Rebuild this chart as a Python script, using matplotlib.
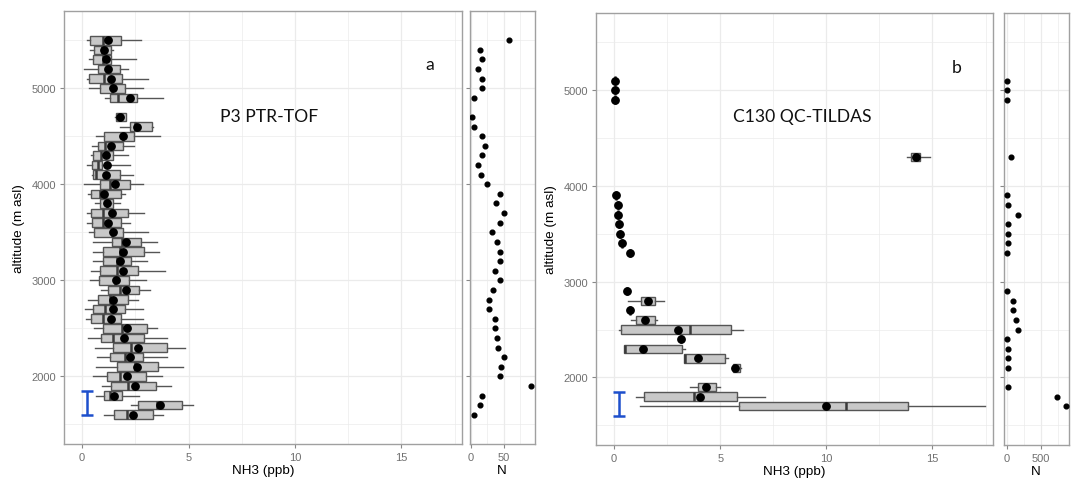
import matplotlib
matplotlib.use("Agg")
import matplotlib.pyplot as plt
from matplotlib.ticker import MultipleLocator

# ---- P3 PTR-TOF: NH3 statistics per 100 m altitude bin ----
p3_alt = [5500, 5400, 5300, 5200, 5100, 5000, 4900, 4700, 4600, 4500,
          4400, 4300, 4200, 4100, 4000, 3900, 3800, 3700, 3600, 3500,
          3400, 3300, 3200, 3100, 3000, 2900, 2800, 2700, 2600, 2500,
          2400, 2300, 2200, 2100, 2000, 1900, 1800, 1700, 1600]
p3_lo = [0.22, 0.38, 0.33, 0.11, 0.22, 0.34, 1.08, 1.55, 1.76, 0.66,
         0.47, 0.42, 0.22, 0.45, 0.09, 0.30, 0.61, 0.25, 0.22, 0.34,
         0.53, 0.53, 0.53, 0.42, 0.38, 0.88, 0.30, 0.14, 0.19, 0.56,
         0.27, 0.61, 0.69, 0.66, 0.49, 0.92, 0.64, 2.30, 1.05]
p3_q1 = [0.38, 0.58, 0.53, 0.77, 0.34, 0.86, 1.29, 1.60, 2.23, 1.05,
         0.74, 0.53, 0.45, 0.53, 0.82, 0.41, 0.82, 0.42, 0.45, 0.56,
         1.39, 1.00, 0.97, 0.85, 0.80, 1.24, 0.74, 0.53, 0.42, 0.97,
         0.88, 1.44, 1.29, 1.63, 1.19, 1.36, 1.05, 2.65, 1.52]
p3_med = [0.97, 0.92, 0.97, 1.16, 1.05, 1.39, 1.68, 1.79, 2.49, 1.90,
          1.08, 0.88, 0.77, 0.66, 1.32, 0.85, 1.16, 1.00, 1.00, 1.39,
          1.87, 1.79, 1.63, 1.66, 1.55, 1.79, 1.32, 1.08, 1.00, 1.87,
          1.47, 2.29, 2.02, 2.49, 1.76, 2.15, 1.32, 3.50, 2.13]
p3_q3 = [1.83, 1.35, 1.35, 1.76, 1.88, 2.02, 2.57, 2.05, 3.29, 2.45,
         1.93, 1.47, 0.92, 1.76, 2.23, 1.82, 1.47, 2.15, 1.83, 1.94,
         2.77, 2.92, 2.30, 2.63, 2.21, 2.68, 2.18, 2.02, 1.82, 3.07,
         2.92, 3.98, 2.88, 3.59, 3.01, 3.48, 1.87, 4.69, 3.32]
p3_hi = [2.76, 1.47, 2.54, 2.18, 3.09, 2.85, 3.79, 2.07, 3.35, 3.64,
         2.45, 2.15, 2.26, 2.38, 2.85, 2.02, 1.79, 2.93, 2.23, 3.12,
         3.51, 3.62, 3.04, 3.90, 3.01, 3.20, 2.65, 2.88, 2.85, 3.51,
         3.98, 4.84, 4.01, 4.72, 3.75, 4.18, 2.69, 5.23, 3.82]
p3_mean = [1.24, 1.02, 1.14, 1.22, 1.35, 1.47, 2.26, 1.79, 2.59, 1.94,
           1.35, 1.10, 1.18, 1.13, 1.54, 1.02, 1.18, 1.39, 1.22, 1.44,
           2.07, 1.94, 1.76, 1.90, 1.60, 2.04, 1.47, 1.43, 1.35, 2.10,
           1.97, 2.63, 2.23, 2.60, 2.10, 2.48, 1.52, 3.67, 2.37]
p3_n = [58, 14, 16, 11, 17, 16, 4, 1, 4, 17,
        22, 16, 11, 15, 24, 44, 38, 51, 44, 32,
        40, 44, 44, 37, 44, 34, 28, 28, 36, 36,
        40, 42, 50, 46, 44, 92, 16, 13, 4]

# ---- C130 QC-TILDAS ----
c130_alt = [5100, 5000, 4900, 4300, 3900, 3800, 3700, 3600, 3500, 3400,
            3300, 2900, 2800, 2700, 2600, 2500, 2400, 2300, 2200, 2100,
            1900, 1800, 1700]
c130_lo = [0.03, 0.03, 0.03, 13.78, 0.11, 0.19, 0.19, 0.22, 0.30, 0.38,
           0.74, 0.62, 0.65, 0.73, 0.82, 0.22, 3.17, 0.46, 3.29, 5.55,
           3.56, 1.04, 1.21]
c130_q1 = [0.03, 0.03, 0.03, 14.00, 0.11, 0.19, 0.19, 0.22, 0.30, 0.38,
           0.74, 0.62, 1.27, 0.73, 1.05, 0.33, 3.17, 0.46, 3.29, 5.59,
           3.94, 1.41, 5.87]
c130_med = [0.03, 0.03, 0.03, 14.17, 0.11, 0.19, 0.19, 0.22, 0.30, 0.38,
            0.74, 0.62, 1.55, 0.73, 1.48, 3.59, 3.17, 0.51, 3.36, 5.68,
            4.28, 3.75, 10.93]
c130_q3 = [0.03, 0.03, 0.03, 14.40, 0.11, 0.19, 0.19, 0.22, 0.30, 0.38,
           0.74, 0.62, 1.92, 0.73, 1.92, 5.52, 3.17, 3.20, 5.22, 5.94,
           4.82, 5.79, 13.86]
c130_hi = [0.03, 0.03, 0.03, 14.88, 0.11, 0.19, 0.19, 0.22, 0.30, 0.38,
           0.74, 0.62, 2.37, 0.73, 2.02, 6.07, 3.17, 3.33, 5.35, 5.97,
           5.00, 7.12, 17.46]
c130_mean = [0.03, 0.03, 0.03, 14.22, 0.11, 0.19, 0.19, 0.22, 0.30, 0.38,
             0.74, 0.62, 1.59, 0.73, 1.48, 3.00, 3.17, 1.35, 3.94, 5.68,
             4.33, 4.06, 9.99]
c130_n = [1, 1, 1, 73, 1, 15, 166, 15, 15, 15,
          1, 1, 88, 88, 142, 166, 1, 20, 15, 15,
          29, 735, 872]

# vertical bar marking the altitude span 1600-1850 m
bar_x = 0.25
bar_span = (1600, 1850)

W, H = 1074, 481
fig = plt.figure(figsize=(W / 100, H / 100), dpi=100)
fig.patch.set_facecolor("white")

LABEL_FONT = ["Liberation Sans", "DejaVu Sans"]
NOTE_FONT = ["Lato", "DejaVu Sans"]
BORDER = "#a0a0a0"
GRID = "#ebebeb"
TICKLAB = "#707070"


def px_axes(left, right, top, bottom):
    return fig.add_axes([left / W, 1 - bottom / H, (right - left) / W, (bottom - top) / H])


def style(ax, xmajor, xminor):
    ax.set_facecolor("white")
    ax.set_ylim(1295, 5805)
    ax.yaxis.set_major_locator(MultipleLocator(1000))
    ax.yaxis.set_minor_locator(MultipleLocator(500))
    ax.xaxis.set_major_locator(MultipleLocator(xmajor))
    ax.xaxis.set_minor_locator(MultipleLocator(xminor))
    ax.grid(which="major", color=GRID, lw=0.9, zorder=0)
    ax.grid(which="minor", color=GRID, lw=0.5, zorder=0)
    ax.set_axisbelow(True)
    for s in ax.spines.values():
        s.set_color(BORDER)
        s.set_linewidth(1.0)
    ax.tick_params(which="major", length=3, width=0.8, color="#888888",
                   labelcolor=TICKLAB, labelsize=8, pad=2.5)
    ax.tick_params(which="minor", length=0)
    for lab in ax.get_xticklabels() + ax.get_yticklabels():
        lab.set_family(LABEL_FONT)


def profile(ax, alt, lo, q1, med, q3, hi, mean):
    stats = [dict(whislo=a, q1=b, med=c, q3=d, whishi=e, fliers=[])
             for a, b, c, d, e in zip(lo, q1, med, q3, hi)]
    ax.bxp(stats, positions=alt, widths=88, orientation="horizontal",
           showcaps=False, showfliers=False, patch_artist=True,
           manage_ticks=False,
           boxprops=dict(facecolor="#c8c8c8", edgecolor="#555555", linewidth=1.0),
           whiskerprops=dict(color="#555555", linewidth=1.0),
           medianprops=dict(color="#3a3a3a", linewidth=1.8))
    ax.plot(mean, alt, "o", color="black", ms=5.3, zorder=6)
    lo_y, hi_y = bar_span
    ax.errorbar([bar_x], [(lo_y + hi_y) / 2], yerr=[(hi_y - lo_y) / 2],
                color="#1d4fcc", lw=1.8, capsize=4.2, capthick=1.8, zorder=7)
    ax.set_xlim(-0.85, 17.85)
    ax.set_xlabel("NH3 (ppb)", fontsize=9.7, family=LABEL_FONT, labelpad=2)
    ax.set_ylabel("altitude (m asl)", fontsize=9.7, family=LABEL_FONT, labelpad=5)


def counts(ax, alt, n, xlim, xmajor, xminor):
    ax.plot(n, alt, "o", color="black", ms=3.4, zorder=5)
    ax.set_xlim(*xlim)
    style(ax, xmajor, xminor)
    ax.set_yticklabels([])
    ax.set_xlabel("N", fontsize=9.7, family=LABEL_FONT, labelpad=2)


def note(x, y, s):
    fig.text(x / W, 1 - y / H, s, ha="center", va="center",
             fontsize=12.6, family=NOTE_FONT, color="#111111")


# panel a
ax_a = px_axes(64, 462, 12, 445)
profile(ax_a, p3_alt, p3_lo, p3_q1, p3_med, p3_q3, p3_hi, p3_mean)
style(ax_a, 5, 2.5)
note(269, 117, "P3 PTR-TOF")
note(430, 65, "a")

ax_an = px_axes(469.5, 535, 12, 445)
counts(ax_an, p3_alt, p3_n, (-2.6, 98.5), 50, 25)

# panel b
ax_b = px_axes(596, 993, 14, 446)
profile(ax_b, c130_alt, c130_lo, c130_q1, c130_med, c130_q3, c130_hi, c130_mean)
style(ax_b, 5, 2.5)
note(802, 117, "C130 QC-TILDAS")
note(957, 68, "b")

ax_bn = px_axes(1003.5, 1069, 14, 446)
counts(ax_bn, c130_alt, c130_n, (-44, 916), 500, 250)

fig.savefig("out.png", dpi=100, facecolor="white")
